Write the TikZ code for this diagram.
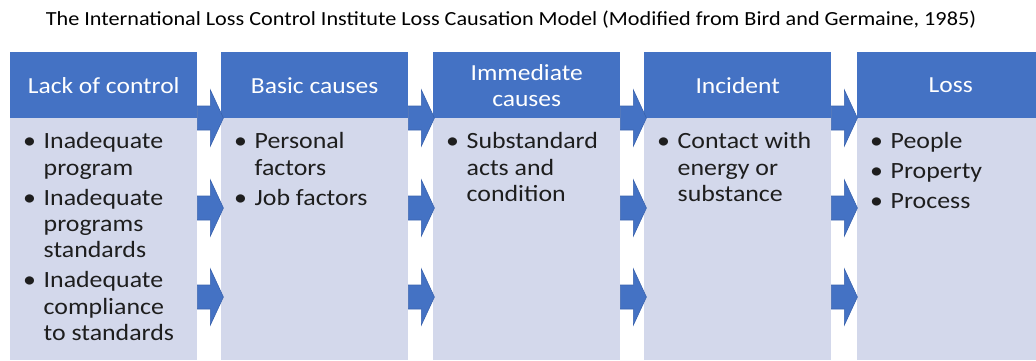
\documentclass[tikz,border=0pt]{standalone}
\usepackage{fontspec}
\setmainfont{Carlito}[FakeStretch=1.11]
\definecolor{hdrblue}{HTML}{4472C4}
\definecolor{bodyfill}{HTML}{D3D8EB}
\definecolor{arrowedge}{HTML}{3A63AE}
\definecolor{bodytext}{HTML}{1E1E1E}
\newcommand\bul{\makebox[20.5pt][l]{\textbullet}}
\newcommand\ind{\hspace*{20.5pt}}
\begin{document}
\begin{tikzpicture}[x=1pt,y=-1pt,
  colhead/.style={fill=hdrblue, draw=none, anchor=north west, minimum width=187pt,
    minimum height=66pt, inner sep=0pt, text=white, align=center,
    font=\fontsize{23}{26}\selectfont},
  colbody/.style={fill=bodyfill, draw=none, anchor=north west, minimum width=187pt,
    minimum height=242pt, inner sep=0pt},
  itemtext/.style={anchor=north west, inner sep=0pt, align=left, text=bodytext,
    font=\fontsize{23.3}{26.4}\selectfont},
  blockarrow/.style={fill=hdrblue, draw=arrowedge, line width=0.6pt, line join=miter},
  titletext/.style={font=\fontsize{20}{23}\selectfont, text=black}]
\useasboundingbox (0,0) rectangle (1036,360);
\node[titletext] (title) at (511,20) {The International Loss Control Institute Loss Causation Model (Modified from Bird and Germaine, 1985)};
% columns
\foreach \i/\x in {1/10, 2/221, 3/433, 4/644, 5/857}{
  \node[colbody] (b\i) at (\x,118) {};
}
\node[colhead] (h1) at (10,52) {Lack of control};
\node[colhead] (h2) at (221,52) {Basic causes};
\node[colhead] (h3) at (433,52) {Immediate\\causes};
\node[colhead] (h4) at (644,52) {Incident};
\node[colhead] (h5) at (857,52) {Loss};
% body texts
\node[itemtext] (t1) at ([xshift=13pt,yshift=-14.5pt]b1.north west)
  {\bul Inadequate\\ \ind program\\[3.5pt]
   \bul Inadequate\\ \ind programs\\ \ind standards\\[3.5pt]
   \bul Inadequate\\ \ind compliance\\ \ind to standards};
\node[itemtext] (t2) at ([xshift=13pt,yshift=-14.5pt]b2.north west)
  {\bul Personal\\ \ind factors\\[3.5pt] \bul Job factors};
\node[itemtext] (t3) at ([xshift=13pt,yshift=-14.5pt]b3.north west)
  {\bul Substandard\\ \ind acts and\\ \ind condition};
\node[itemtext] (t4) at ([xshift=13pt,yshift=-14.5pt]b4.north west)
  {\bul Contact with\\ \ind energy or\\ \ind substance};
\node[itemtext] (t5) at ([xshift=13pt,yshift=-14.5pt]b5.north west)
  {\bul People\\[3.5pt] \bul Property\\[3.5pt] \bul Process};
% block arrows between columns
\foreach \a in {1,2,3,4}{
  \foreach \dy in {0,90,179}{
    \draw[blockarrow] ([yshift=-\dy pt+12pt]b\a.north east) -- ++(13,0) -- ++(0,-16)
      -- ++(13,28) -- ++(-13,28) -- ++(0,-16) -- ++(-13,0) -- cycle;
  }
}
\end{tikzpicture}
\end{document}
